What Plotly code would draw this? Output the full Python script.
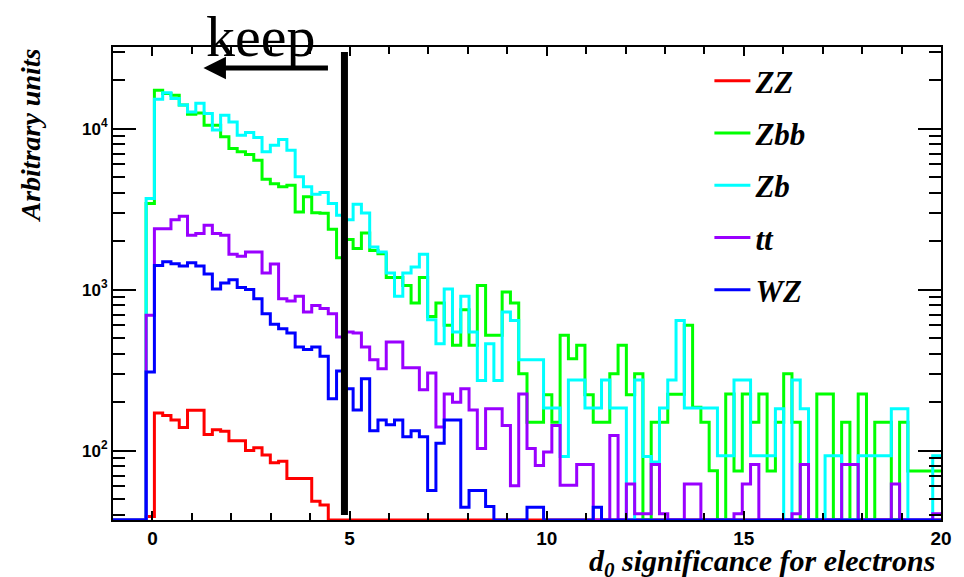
import numpy as np
import plotly.graph_objects as go

# ---------------- data ----------------
x_min, x_max, n_bins = -1.0, 20.0, 100
bin_edges = np.linspace(x_min, x_max, n_bins + 1)

series_names = ["ZZ", "Zbb", "Zb", "tt", "WZ"]
series_colors = ["#ff0000", "#00ff00", "#00ffff", "#9900ff", "#0000ff"]

zz = [0, 0, 0, 0, 39, 171, 165, 155, 139, 178, 178, 126, 135, 132, 115, 115, 100, 104, 94, 84,
      86, 67, 67, 67, 48.5, 46] + [0] * 74

zbb = [0, 0, 0, 0, 3430, 17300, 16500, 16100, 14000, 12300, 12500, 10500, 10500, 8900, 7530, 7180, 6900, 6370, 4850, 4540,
       4350, 4450, 3040, 3770, 3000, 2980, 2370, 1580, 2050, 1800, 2250, 1750, 1670, 1190, 1190, 1060, 826, 1190, 682, 826,
       600, 451, 750, 451, 1060, 520, 520, 967, 826, 300, 150, 150, 222, 150, 520, 372, 451, 222, 150, 150,
       300, 451, 222, 300, 0, 150, 150, 224, 224, 600, 186, 150, 75, 0, 225, 74.6, 225, 150, 225, 74.6,
       150, 300, 150, 0, 0, 225, 225, 0, 150, 0, 225, 0, 150, 150, 0, 150, 74.6, 74.6, 74.6, 74.6]

zb = [0, 0, 0, 0, 3680, 15200, 16700, 15400, 14000, 12700, 14400, 12400, 9800, 12100, 11000, 9100, 9460, 8810, 7180, 7890,
      8560, 7350, 5020, 4350, 3910, 4010, 3430, 2900, 2720, 3390, 2990, 1840, 1710, 1270, 908, 1270, 1380, 1660, 650, 461,
      1010, 545, 908, 545, 273, 461, 273, 726, 644, 367, 367, 367, 184, 184, 92, 275, 275, 184, 184, 275,
      184, 184, 0, 275, 92, 85, 184, 275, 644, 184, 184, 184, 184, 93, 93, 275, 275, 93, 93, 93,
      182, 0, 275, 182, 0, 0, 93, 93, 0, 0, 93, 93, 93, 93, 182, 182, 0, 0, 0, 93]

tt = [0, 0, 0, 0, 692, 2390, 2390, 2720, 2860, 2180, 2230, 2510, 2230, 2180, 1660, 1610, 1710, 1710, 1270, 1440,
      878, 850, 908, 726, 798, 762, 708, 507, 545, 537, 440, 367, 322, 472, 472, 327, 327, 239, 303, 140,
      225, 200, 242, 179, 103, 182, 182, 143, 60.6, 225, 103, 80.8, 98, 143, 61, 61, 82, 82, 0, 0,
      124, 0, 62, 40.5, 40.5, 82, 40.5, 0, 0, 62, 62, 0, 0, 0, 0, 40.5, 62, 82, 0, 0,
      0, 0, 40.5, 82, 0, 0, 0, 0, 82, 82, 0, 0, 0, 0, 62, 0, 0, 0, 0, 40.5]

wz = [0, 0, 0, 0, 308, 1410, 1490, 1450, 1400, 1470, 1400, 1250, 1010, 1100, 1150, 1030, 1000, 879, 709, 609,
      572, 537, 440, 424, 440, 385, 210, 312, 242, 179, 279, 133, 155, 145, 155, 122, 133, 122, 56.5, 111,
      155, 155, 44.5, 56.5, 56.5, 44.9, 0, 0, 0, 0, 44.5, 44.5, 0, 0, 0, 0, 0, 0, 44.5, 0] + [0] * 40

series_values = [zz, zbb, zb, tt, wz]

y_tick_values = [100, 1000, 10000]
y_tick_labels = ["10<sup>2</sup>", "10<sup>3</sup>", "10<sup>4</sup>"]
x_tick_values = [0, 5, 10, 15, 20]

cut_value = 4.87

# ---------------- figure ----------------
W, H = 964, 577
ml, mr, mt, mb = 113, 18, 47, 57
PW, PH = W - ml - mr, H - mt - mb
y_log_range = [1.569, 4.507]
y_floor = 10 ** y_log_range[0]


def px_x(p):
    return (p - ml) / PW


def px_y(p):
    return (H - mb - p) / PH


fig = go.Figure()
for name, color, vals in zip(series_names, series_colors, series_values):
    v = np.maximum(np.asarray(vals, dtype=float), y_floor)
    fig.add_trace(go.Scatter(
        x=bin_edges, y=np.append(v, v[-1]), mode="lines", name=name,
        line=dict(color=color, width=3, shape="hv"), legendgroup=name,
    ))

serif = "Liberation Serif"
sans = "Liberation Sans"

fig.update_layout(
    width=W, height=H, margin=dict(l=ml, r=mr, t=mt, b=mb),
    paper_bgcolor="white", plot_bgcolor="white",
    showlegend=True,
    legend=dict(x=px_x(713), y=px_y(54), xanchor="left", yanchor="top",
                bgcolor="rgba(0,0,0,0)", borderwidth=0, tracegroupgap=9, itemwidth=36,
                font=dict(family=serif, size=31, color="black", style="italic", weight="bold")),
    xaxis=dict(range=[x_min, x_max], tickvals=x_tick_values, ticks="inside", ticklen=9, tickwidth=1.5,
               tickcolor="black", showline=True, linecolor="black", linewidth=2, mirror="allticks",
               showgrid=False, zeroline=False,
               minor=dict(dtick=1, tick0=0, ticks="inside", ticklen=7, tickcolor="black", tickwidth=1.5, showgrid=False),
               tickfont=dict(family=sans, size=19, color="black", weight="bold")),
    yaxis=dict(type="log", range=y_log_range, tickvals=y_tick_values, ticktext=y_tick_labels,
               ticks="inside", ticklen=23, tickwidth=1.5, tickcolor="black", showline=True, linecolor="black",
               linewidth=2, mirror="allticks", showgrid=False, zeroline=False,
               minor=dict(dtick="D1", ticks="inside", ticklen=12, tickcolor="black", tickwidth=1.5, showgrid=False),
               tickfont=dict(family=sans, size=17, color="black", weight="bold")),
)

# cut line
fig.add_shape(type="line", xref="x", yref="paper", x0=cut_value, x1=cut_value,
              y0=px_y(515), y1=px_y(52), line=dict(color="black", width=7))

# keep arrow + text
fig.add_annotation(x=px_x(204), y=px_y(68), xref="paper", yref="paper", ax=126, ay=0,
                   axref="pixel", ayref="pixel", text="", showarrow=True, arrowhead=2, arrowsize=0.9,
                   arrowwidth=5, arrowcolor="black")
fig.add_annotation(x=px_x(262), y=px_y(37), xref="paper", yref="paper", text="keep",
                   showarrow=False, xanchor="center", yanchor="middle",
                   font=dict(family=serif, size=58, color="black"))

# axis titles
fig.add_annotation(x=px_x(942), xref="paper", y=px_y(542), yref="paper", xanchor="right", yanchor="top",
                   text="d<sub>0</sub> significance for electrons", showarrow=False,
                   font=dict(family=serif, size=30, color="black", style="italic", weight="bold"))
fig.add_annotation(x=px_x(30), xref="paper", y=px_y(135), yref="paper",
                   xanchor="center", yanchor="middle", textangle=-90,
                   text="Arbitrary units", showarrow=False,
                   font=dict(family=serif, size=28, color="black", style="italic", weight="bold"))

fig.write_html("out.html")
